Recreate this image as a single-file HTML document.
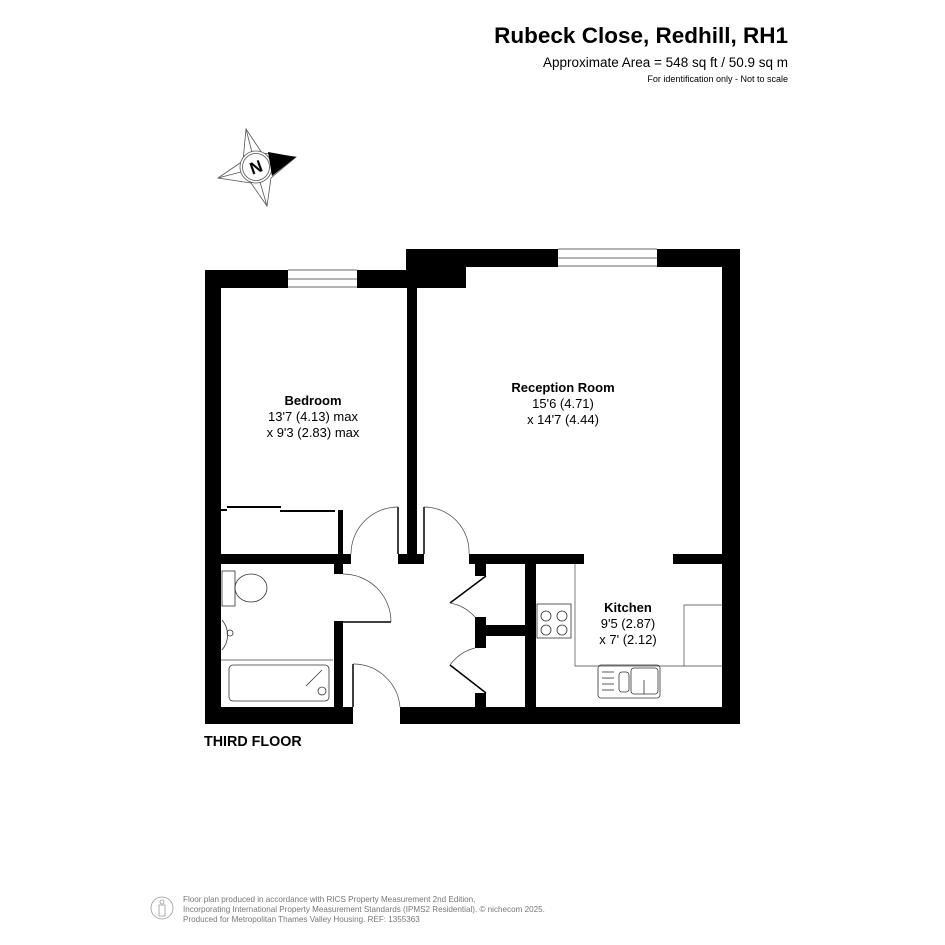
<!DOCTYPE html>
<html><head><meta charset="utf-8"><style>body{margin:0;background:#fff}svg{display:block}</style></head><body>
<svg width="945" height="945" viewBox="0 0 945 945" xmlns="http://www.w3.org/2000/svg" font-family="Liberation Sans, sans-serif">
<rect width="945" height="945" fill="#fff"/>
<text x="788" y="43" font-size="22.5" font-weight="bold" text-anchor="end">Rubeck Close, Redhill, RH1</text>
<text x="788" y="67" font-size="13.5" text-anchor="end">Approximate Area = 548 sq ft / 50.9 sq m</text>
<text x="788" y="82" font-size="9" text-anchor="end">For identification only - Not to scale</text>
<!-- compass -->
<g stroke="#555" stroke-width="0.8" fill="none">
<polygon points="246,129 262,153 296,157 271,178 267,206 251,183 218,178 243,161"/>
<line x1="246" y1="129" x2="256" y2="168"/><line x1="267" y1="206" x2="256" y2="168"/><line x1="218" y1="178" x2="256" y2="168"/>
<circle cx="256" cy="167" r="16" fill="#fff"/><circle cx="256" cy="167" r="13.5"/>
</g>
<polygon points="268,152 296,157 272,176" fill="#000"/>
<text x="256" y="173" font-size="17" font-weight="bold" text-anchor="middle" transform="rotate(-20 256 167)">N</text>
<!-- walls -->
<g fill="#000">
<rect x="205" y="270" width="83" height="18"/><rect x="357" y="270" width="50" height="18"/>
<rect x="205" y="270" width="16" height="454"/>
<rect x="406" y="249" width="152" height="18"/><rect x="657" y="249" width="83" height="18"/>
<rect x="406" y="249" width="60" height="39"/>
<rect x="722" y="249" width="18" height="475"/>
<rect x="407" y="288" width="10" height="266"/>
<rect x="398" y="554" width="26" height="10"/>
<rect x="221" y="554" width="130" height="10"/>
<rect x="334" y="564" width="9" height="10"/>
<rect x="469" y="554" width="115" height="10"/>
<rect x="673" y="554" width="50" height="10"/>
<rect x="475" y="564" width="11" height="12"/><rect x="475" y="617" width="11" height="31"/><rect x="475" y="693" width="11" height="14"/>
<rect x="486" y="625" width="39" height="11"/>
<rect x="525" y="564" width="11" height="143"/>
<rect x="334" y="621" width="9" height="86"/>
<rect x="205" y="707" width="148" height="17"/>
<rect x="400" y="707" width="340" height="17"/>
</g>
<!-- windows -->
<g stroke="#888" stroke-width="1.2"><line x1="288" y1="270" x2="357" y2="270"/><line x1="288" y1="279" x2="357" y2="279"/><line x1="288" y1="287" x2="357" y2="287"/>
<line x1="558" y1="249" x2="657" y2="249"/><line x1="558" y1="258" x2="657" y2="258"/><line x1="558" y1="266" x2="657" y2="266"/></g>
<!-- wardrobe -->
<g stroke="#000" stroke-width="2" fill="none"><line x1="227" y1="507" x2="281" y2="507"/><line x1="280" y1="511" x2="335" y2="511"/>
<line x1="221" y1="510" x2="227" y2="510"/></g>
<rect x="338" y="510" width="5" height="44" fill="#000"/>
<!-- doors -->
<g stroke="#000" stroke-width="1.5" fill="none">
<line x1="398" y1="507" x2="398" y2="554"/><line x1="424" y1="507" x2="424" y2="554"/>
<line x1="343" y1="622" x2="391" y2="622"/><line x1="353" y1="664" x2="353" y2="707"/>
<line x1="486" y1="576" x2="450" y2="603"/><line x1="486" y1="693" x2="450" y2="665"/>
</g>
<g stroke="#444" stroke-width="0.7" fill="none">
<path d="M398,507 A47,47 0 0 0 351,554"/><path d="M424,507 A45,45 0 0 1 469,554"/>
<path d="M343,574 A48,48 0 0 1 391,622"/><path d="M353,664 A47,47 0 0 1 400,707"/>
<path d="M450,603 A44,44 0 0 1 475,617"/><path d="M450,665 A44,44 0 0 1 475,648"/>
<polyline points="575,564 575,666 722,666"/><polyline points="684,666 684,605 722,605"/>
<line x1="221" y1="660" x2="333" y2="660"/>
</g>
<!-- fixtures -->
<g stroke="#333" stroke-width="0.8" fill="none">
<rect x="222" y="571" width="13" height="35"/><ellipse cx="251" cy="588" rx="16" ry="14"/>
<path d="M222,620 A23,23 0 0 1 222,650"/><circle cx="230" cy="633" r="3"/>
<rect x="229" y="665" width="100" height="36" rx="4"/><line x1="306" y1="686" x2="322" y2="670"/><circle cx="322" cy="691" r="4"/>
<rect x="537" y="604" width="34" height="34"/><circle cx="546" cy="616" r="5"/><circle cx="562" cy="616" r="5"/><circle cx="546" cy="630" r="5"/><circle cx="562" cy="630" r="5"/>
<rect x="598" y="665" width="62" height="33" rx="3"/><rect x="631" y="668" width="27" height="26" rx="3"/><rect x="619" y="672" width="10" height="20" rx="3"/>
<line x1="602" y1="672" x2="614" y2="672"/><line x1="602" y1="678" x2="614" y2="678"/><line x1="602" y1="684" x2="614" y2="684"/><line x1="602" y1="690" x2="614" y2="690"/>
<line x1="644" y1="680" x2="644" y2="694"/>
</g>
<!-- labels -->
<g text-anchor="middle" font-size="13">
<text x="313" y="405" font-weight="bold">Bedroom</text><text x="313" y="421">13'7 (4.13) max</text><text x="313" y="437">x 9'3 (2.83) max</text>
<text x="563" y="392" font-weight="bold">Reception Room</text><text x="563" y="408">15'6 (4.71)</text><text x="563" y="424">x 14'7 (4.44)</text>
<text x="628" y="612" font-weight="bold">Kitchen</text><text x="628" y="628">9'5 (2.87)</text><text x="628" y="644">x 7' (2.12)</text>
</g>
<text x="204" y="746" font-size="14.3" font-weight="bold">THIRD FLOOR</text>
<!-- footer -->
<g stroke="#999" stroke-width="0.8" fill="none"><circle cx="162" cy="908" r="11"/><circle cx="162" cy="902" r="2"/><path d="M159,905 L159,916 L165,916 L165,905 Z"/></g>
<g font-size="8.1" fill="#777"><text x="183" y="902">Floor plan produced in accordance with RICS Property Measurement 2nd Edition,</text>
<text x="183" y="912">Incorporating International Property Measurement Standards (IPMS2 Residential).   © nichecom 2025.</text>
<text x="183" y="922">Produced for Metropolitan Thames Valley Housing.   REF: 1355363</text></g>
</svg>
</body></html>
